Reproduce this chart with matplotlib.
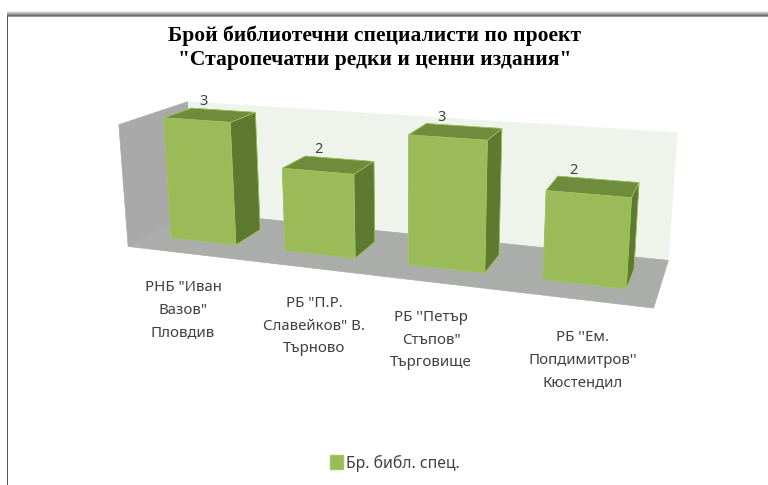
import numpy as np
import matplotlib
matplotlib.use('Agg')
import matplotlib.pyplot as plt
from matplotlib.patches import Patch, Rectangle
from matplotlib.text import Text
from mpl_toolkits.mplot3d import proj3d
from mpl_toolkits.mplot3d.art3d import Poly3DCollection

title_lines = ['Брой библиотечни специалисти по проект', '"Старопечатни редки и ценни издания"']
categories = ['РНБ "Иван\nВазов"\nПловдив', 'РБ "П.Р.\nСлавейков" В.\nТърново',
              'РБ \'\'Петър\nСтъпов"\nТърговище', 'РБ \'\'Ем.\nПопдимитров\'\'\nКюстендил']
values = [3, 2, 3, 2]
series_name = 'Бр. библ. спец.'
label_px = [(183, 310), (314, 326), (431, 340), (583, 360)]

W, H = 768, 485
FRONT, TOP, SIDE = '#9BBB59', '#6F8C3D', '#5E7A30'
EDGE = '#A3C563'
el, az, ro, f = 15.28, -70.20, 0.34, 0.351
bx, by = 4.138, 1.042
cx, cy, S = 390.7, 191.5, 564.6
zm, bw, y0, y1 = 2.981, 0.577, 0.294, 0.710
side = S*0.185/0.19
left = cx - S/2
top = cy - S*0.09/0.19

fig = plt.figure(figsize=(W/100, (H+0.1)/100), dpi=100, facecolor='white')
ax = fig.add_axes([left/W, (H-top-side)/H, side/W, side/H], projection='3d')
ax.computed_zorder = False
ax.view_init(el, az, ro)
ax.set_proj_type('persp', focal_length=f)
ax.set_box_aspect((bx, by, 1))
n = len(values)
ax.set_xlim(0, n); ax.set_ylim(0, 1); ax.set_zlim(0, zm)
ax.set_axis_off()
ax.patch.set_alpha(0)
for t in ax.findobj(Text):
    t.set_visible(False)

left_wall = [[(0, 0, 0), (0, 1, 0), (0, 1, zm), (0, 0, zm)]]
back_wall = [[(0, 1, 0), (n, 1, 0), (n, 1, zm), (0, 1, zm)]]
floor = [[(0, 0, 0), (n, 0, 0), (n, 1, 0), (0, 1, 0)]]
for poly, col, zo in [(back_wall, '#EEF4EB', 1), (left_wall, '#A8A9A8', 2), (floor, '#ABADAB', 3)]:
    pc = Poly3DCollection(poly, facecolors=col, edgecolors=col, linewidths=0.5, zorder=zo)
    ax.add_collection3d(pc)
    pc.set_clip_on(False)

xs = np.arange(n) + 0.5 - bw/2
bars = ax.bar3d(xs, np.full(n, y0), np.zeros(n), bw, y1-y0, values,
                color=[TOP, TOP, FRONT, FRONT, SIDE, SIDE]*n, shade=False,
                edgecolor=EDGE, linewidth=0.5, zorder=4)
bars.set_clip_on(False)
M = ax.get_proj()
for x, v in zip(xs, values):
    x2, y2, _ = proj3d.proj_transform(x + 0.2*bw, y1, v, M)
    ax.text2D(x2, y2, str(v), transform=ax.transData, ha='center', va='bottom', fontsize=10.5,
              family='Noto Sans', color='#404040', zorder=6)

for line, yp in zip(title_lines, (36, 60)):
    fig.text(375/W, 1-yp/H, line, ha='center', va='center', fontsize=15.5, fontweight='bold',
             family='Liberation Serif', color='black')
for lab, (xp, yp) in zip(categories, label_px):
    fig.text(xp/W, 1-yp/H, lab, ha='center', va='center', fontsize=10.8, family='Noto Sans',
             color='#404040', linespacing=1.68)

fig.legend(handles=[Patch(facecolor=FRONT, edgecolor=EDGE, label=series_name)], loc='center',
           bbox_to_anchor=(395/W, 1-463/H), frameon=False, handlelength=0.8,
           handleheight=1.0, handletextpad=0.2, labelcolor='#404040',
           prop={'family': 'Noto Sans', 'size': 11.3})

for i, g in enumerate([0.9, 0.8, 0.68, 0.55, 0.42, 0.6]):
    fig.add_artist(Rectangle((7/W, 1-(11+i+1)/H), 761/W, 1/H, transform=fig.transFigure,
                             facecolor=str(g), edgecolor='none'))
fig.add_artist(Rectangle((6.5/W, 0), 1.5/W, 1-16/H, transform=fig.transFigure,
                         facecolor='0.35', edgecolor='none'))

fig.savefig('out.png', dpi=100)
